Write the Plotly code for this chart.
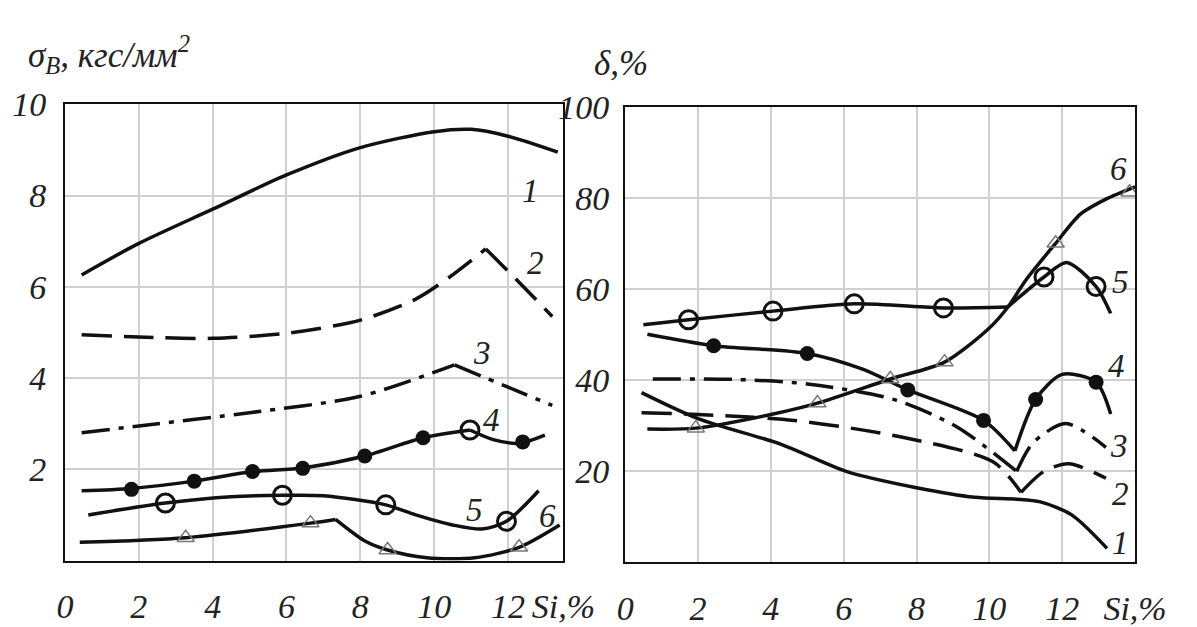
import plotly.graph_objects as go

# ---------------- data (left panel: sigma_B, kgs/mm^2) ----------------
L1_x = [0.45, 2, 4, 6, 8, 10, 11, 12, 13.35]
L1_y = [6.26, 6.95, 7.7, 8.45, 9.05, 9.4, 9.45, 9.3, 8.95]

L2_x = [0.45, 2, 4, 6, 8, 9.5, 10.5, 11.4, None, 11.4, 12.3, 13.2]
L2_y = [4.95, 4.9, 4.87, 4.98, 5.27, 5.73, 6.26, 6.83, None, 6.83, 6.1, 5.35]

L3_x = [0.45, 2, 5, 8, 10.55, None, 10.55, 12, 13.2]
L3_y = [2.8, 2.95, 3.24, 3.6, 4.29, None, 4.29, 3.8, 3.4]

L4_x = [0.45, 1.8, 3.5, 5.08, 6.44, 8.12, 9.7, 10.97, None, 10.97, 11.6, 12.3, 13.0]
L4_y = [1.53, 1.58, 1.74, 1.95, 2.03, 2.29, 2.69, 2.86, None, 2.86, 2.65, 2.57, 2.75]
L4_mx = [1.8, 3.5, 5.08, 6.44, 8.12, 9.7, 12.4]
L4_my = [1.56, 1.74, 1.95, 2.02, 2.29, 2.69, 2.6]
L4_ox = [10.97]
L4_oy = [2.86]

L5_x = [0.63, 2.72, 4.5, 5.89, 7, 8.69, 9.5, 10.5, 11.3, 11.96, 12.83]
L5_y = [1.0, 1.26, 1.4, 1.43, 1.42, 1.22, 1.0, 0.78, 0.69, 0.86, 1.53]
L5_mx = [2.72, 5.89, 8.69, 11.96]
L5_my = [1.26, 1.43, 1.22, 0.86]

L6_x = [0.4, 3.27, 6.65, 7.33, None, 7.33, 8.1, 8.74, 9.8, 11.1, 12.3, 13.4]
L6_y = [0.4, 0.5, 0.82, 0.9, None, 0.9, 0.44, 0.23, 0.06, 0.06, 0.29, 0.78]
L6_mx = [3.27, 6.65, 8.74, 12.3]
L6_my = [0.5, 0.82, 0.23, 0.29]

# ---------------- data (right panel: delta, %) ----------------
R1_x = [0.45, 2.0, 4.3, 6.07, 8.0, 9.6, 10.75, 11.4, 12.25, 13.23]
R1_y = [37.3, 31.6, 25.9, 20.0, 16.4, 14.3, 13.9, 13.3, 10.5, 3.1]

R2_x = [0.45, 2, 4.64, 7.68, 10.1, 10.87, None, 10.87, 11.5, 12.18, 13.2]
R2_y = [32.9, 32.5, 31.2, 27.4, 22.1, 15.4, None, 15.4, 20, 21.7, 18.5]

R3_x = [0.76, 3, 5.0, 7.37, 9.1, 10.75, None, 10.75, 11.2, 12.1, 13.2]
R3_y = [40.3, 40.2, 39.2, 35.8, 29.8, 20, None, 20, 26.3, 30.5, 25.3]

R4_x = [0.61, 2.43, 5.0, 6.5, 7.76, 9.84, 10.7, None, 10.7, 11.27, 12.0, 12.93, 13.33]
R4_y = [50.1, 47.6, 45.9, 42.5, 37.9, 31.2, 24.5, None, 24.5, 35.8, 41.3, 39.6, 32.6]
R4_mx = [2.43, 5.0, 7.76, 9.84, 11.27, 12.93]
R4_my = [47.6, 45.9, 37.9, 31.2, 35.8, 39.6]

R5_x = [0.5, 1.74, 4.06, 6.29, 8.74, 10.5, None, 10.5, 11.0, 11.5, 12.12, 12.93, 13.33]
R5_y = [52.2, 53.3, 55.2, 56.8, 55.9, 56.1, None, 56.1, 59.5, 62.7, 65.9, 60.6, 54.7]
R5_mx = [1.74, 4.06, 6.29, 8.74, 11.5, 12.93]
R5_my = [53.3, 55.2, 56.8, 55.9, 62.7, 60.6]

R6_x = [0.61, 1.94, 4, 5.28, 7.28, 8.77, 10.0, 10.5, 11.0, 11.82, 12.5, 13.2, 14.0]
R6_y = [29.3, 29.5, 32.5, 35, 40.3, 44, 51.5, 56, 62, 70.1, 76.5, 79.8, 82.5]
R6_mx = [1.94, 5.28, 7.28, 8.77, 11.82, 13.85]
R6_my = [29.5, 35, 40.3, 44, 70.1, 81.3]

L_labels = ["1", "2", "3", "4", "5", "6"]
L_lab_x = [12.6, 12.75, 11.3, 11.55, 11.1, 13.06]
L_lab_y = [8.1, 6.53, 4.54, 3.07, 1.11, 0.97]
R_lab_x = [13.6, 13.6, 13.55, 13.5, 13.6, 13.55]
R_lab_y = [4.2, 15, 25.5, 43.2, 61.7, 86.5]

L_xticks = [0, 2, 4, 6, 8, 10, 12, 13.5]
R_xticks = [0, 2, 4, 6, 8, 10, 12, 14]
x_ticktext = ["0", "2", "4", "6", "8", "10", "12", "Si,%"]
L_yticks = [2, 4, 6, 8, 10]
R_yticks = [20, 40, 60, 80, 100]

# ---------------- figure ----------------
FONT = "Liberation Serif"
BLACK = "#111111"
TXT = "#222222"
fig = go.Figure()

def line(x, y, xa, ya, dash="solid"):
    fig.add_trace(go.Scatter(x=x, y=y, xaxis=xa, yaxis=ya, mode="lines",
                             line=dict(color=BLACK, width=3.5, dash=dash, shape="spline", smoothing=0.8),
                             connectgaps=False, showlegend=False, hoverinfo="skip"))

def marks(x, y, xa, ya, kind):
    if kind == "filled":
        m = dict(symbol="circle", size=15, color=BLACK)
    elif kind == "open":
        m = dict(symbol="circle-open", size=18, color=BLACK, line=dict(width=3, color=BLACK))
    else:
        m = dict(symbol="triangle-up-open", size=15, color="#777777", line=dict(width=1.5, color="#777777"))
    fig.add_trace(go.Scatter(x=x, y=y, xaxis=xa, yaxis=ya, mode="markers", marker=m,
                             showlegend=False, hoverinfo="skip"))

DASH2 = "30px,12px"
DASH3 = "28px,9px,5px,9px"

# left panel
line(L1_x, L1_y, "x", "y")
line(L2_x, L2_y, "x", "y", DASH2)
line(L3_x, L3_y, "x", "y", DASH3)
line(L4_x, L4_y, "x", "y")
line(L5_x, L5_y, "x", "y")
line(L6_x, L6_y, "x", "y")
marks(L4_mx, L4_my, "x", "y", "filled")
marks(L4_ox, L4_oy, "x", "y", "open")
marks(L5_mx, L5_my, "x", "y", "open")
marks(L6_mx, L6_my, "x", "y", "tri")

# right panel
line(R1_x, R1_y, "x2", "y2")
line(R2_x, R2_y, "x2", "y2", DASH2)
line(R3_x, R3_y, "x2", "y2", DASH3)
line(R4_x, R4_y, "x2", "y2")
line(R5_x, R5_y, "x2", "y2")
line(R6_x, R6_y, "x2", "y2")
marks(R4_mx, R4_my, "x2", "y2", "filled")
marks(R5_mx, R5_my, "x2", "y2", "open")
marks(R6_mx, R6_my, "x2", "y2", "tri")

tickfont = dict(family=FONT, size=34, color=TXT, style="italic")
common = dict(showline=True, linecolor=BLACK, linewidth=2, mirror=True,
              showgrid=True, gridcolor="#d0d0d0", gridwidth=1.5, zeroline=False,
              ticks="", tickfont=tickfont, fixedrange=True)

W, H = 1197, 627
fig.update_layout(
    width=W, height=H, margin=dict(l=0, r=0, t=0, b=0),
    paper_bgcolor="white", plot_bgcolor="white",
    xaxis=dict(domain=[58 / W, 574 / W], range=[0, 13.5], anchor="y",
               tickmode="array", tickvals=L_xticks, ticktext=x_ticktext,
               ticklabelstandoff=15, **common),
    yaxis=dict(domain=[(H - 566) / H, (H - 90) / H], range=[0, 10], anchor="x",
               tickmode="array", tickvals=L_yticks, ticktext=[str(v) for v in L_yticks],
               ticklabelstandoff=10, **common),
    xaxis2=dict(domain=[638 / W, 1166 / W], range=[0, 14], anchor="y2",
                tickmode="array", tickvals=R_xticks, ticktext=x_ticktext,
                ticklabelstandoff=15, **common),
    yaxis2=dict(domain=[(H - 568) / H, (H - 93) / H], range=[0, 100], anchor="x2",
                tickmode="array", tickvals=R_yticks, ticktext=[str(v) for v in R_yticks],
                ticklabelstandoff=7, **common),
)

ann = []
for t, x, y in zip(L_labels, L_lab_x, L_lab_y):
    ann.append(dict(x=x, y=y, xref="x", yref="y", text=f"<i>{t}</i>", showarrow=False,
                    font=dict(family=FONT, size=33, color=TXT)))
for t, x, y in zip(L_labels, R_lab_x, R_lab_y):
    ann.append(dict(x=x, y=y, xref="x2", yref="y2", text=f"<i>{t}</i>", showarrow=False,
                    font=dict(family=FONT, size=33, color=TXT)))
ann.append(dict(x=18 / W, y=(H - 38) / H, xref="paper", yref="paper", xanchor="left",
                yanchor="middle", showarrow=False,
                text="<i>σ<sub>B</sub>, кгс/мм<sup>2</sup></i>",
                font=dict(family=FONT, size=35, color=TXT)))
ann.append(dict(x=604 / W, y=(H - 47) / H, xref="paper", yref="paper", xanchor="left",
                yanchor="middle", showarrow=False, text="<i>δ,%</i>",
                font=dict(family=FONT, size=35, color=TXT)))
fig.update_layout(annotations=ann)

fig.write_html("out.html")
